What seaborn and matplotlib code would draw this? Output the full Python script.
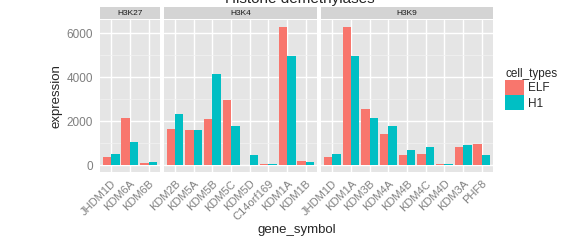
import numpy as np
import pandas as pd
import matplotlib
matplotlib.use("Agg")
import matplotlib.pyplot as plt
from matplotlib.patches import Rectangle, Patch
import seaborn as sns

# values
h3k27_genes = ["JHDM1D", "KDM6A", "KDM6B"]
h3k27_elf = [364, 2136, 106]
h3k27_h1 = [515, 1060, 150]

h3k4_genes = ["KDM2B", "KDM5A", "KDM5B", "KDM5C", "KDM5D", "C14orf169", "KDM1A", "KDM1B"]
h3k4_elf = [1650, 1606, 2106, 2970, 30, 76, 6303, 197]
h3k4_h1 = [2318, 1606, 4136, 1773, 485, 76, 4970, 152]

h3k9_genes = ["JHDM1D", "KDM1A", "KDM3B", "KDM4A", "KDM4B", "KDM4C", "KDM4D", "KDM3A", "PHF8"]
h3k9_elf = [379, 6303, 2560, 1409, 455, 530, 76, 833, 985]
h3k9_h1 = [530, 4970, 2150, 1773, 697, 833, 76, 909, 485]

facets = ["H3K27", "H3K4", "H3K9"]
cell_types = ["ELF", "H1"]
palette = {"ELF": "#F8766D", "H1": "#00BFC4"}

panels = [
    (h3k27_genes, h3k27_elf, h3k27_h1),
    (h3k4_genes, h3k4_elf, h3k4_h1),
    (h3k9_genes, h3k9_elf, h3k9_h1),
]

sns.set_style("white")
plt.rcParams["font.family"] = ["Liberation Sans", "DejaVu Sans"]

W, H = 561, 240
fig, axes = plt.subplots(
    1, 3, figsize=(W / 100, H / 100), dpi=100, sharey=True,
    gridspec_kw={"width_ratios": [len(p[0]) + 0.2 for p in panels]},
)
fig.subplots_adjust(left=100 / W, right=493 / W, top=1 - 19.7 / H,
                    bottom=1 - 172.2 / H, wspace=0.032)

ymax = 6303
for ax, facet, (genes, elf, h1) in zip(axes, facets, panels):
    df = pd.DataFrame({
        "gene_symbol": genes * 2,
        "expression": elf + h1,
        "cell_types": ["ELF"] * len(genes) + ["H1"] * len(genes),
    })
    ax.set_facecolor("#E5E5E5")
    ax.set_axisbelow(True)
    sns.barplot(data=df, x="gene_symbol", y="expression", hue="cell_types",
                hue_order=cell_types, order=genes, palette=palette,
                width=0.9, saturation=1, legend=False, ax=ax,
                edgecolor="none", linewidth=0)
    ax.set_xlim(-0.6, len(genes) - 0.4)
    ax.set_ylim(-0.05 * ymax, 1.05 * ymax)
    ax.set_yticks([0, 2000, 4000, 6000])
    ax.set_yticks([1000, 3000, 5000], minor=True)
    ax.grid(True, which="major", color="white", linewidth=1.0)
    ax.grid(True, which="minor", axis="y", color="#F2F2F2", linewidth=0.5)
    for s in ax.spines.values():
        s.set_visible(False)
    ax.tick_params(axis="x", which="major", length=3.5, color="#7F7F7F",
                   labelsize=8, labelcolor="#7F7F7F", pad=1)
    ax.tick_params(axis="y", which="major", length=3.5, color="#7F7F7F",
                   labelsize=8.5, labelcolor="#7F7F7F", pad=1.5)
    ax.tick_params(axis="y", which="minor", length=0)
    for lbl in ax.get_xticklabels():
        lbl.set_rotation(45)
        lbl.set_ha("right")
        lbl.set_rotation_mode("anchor")
    ax.set_xlabel("")
    ax.set_ylabel("")
    # facet strip
    ax.add_patch(Rectangle((0, 1.003), 1, 0.08, transform=ax.transAxes,
                           clip_on=False, facecolor="#D4D4D4", edgecolor="none"))
    ax.text(0.5, 1.043, facet, transform=ax.transAxes, ha="center", va="center",
            fontsize=6, color="#1A1A1A")

for ax in axes[1:]:
    ax.tick_params(axis="y", which="major", length=0, labelleft=False)

axes[0].set_ylabel("expression", fontsize=9.5, labelpad=3)
fig.text(297 / W, 1 - 230 / H, "gene_symbol", ha="center", va="center", fontsize=9.5)
fig.text(300 / W, 1 - 3 / H, "Histone demethylases", ha="center", va="baseline",
         fontsize=11)

handles = [Patch(facecolor=palette[c], edgecolor="none", label=c) for c in cell_types]
leg = fig.legend(handles=handles, title="cell_types", loc="upper left",
                 bbox_to_anchor=(505 / W, 1 - 68 / H), frameon=False,
                 fontsize=8.5, title_fontsize=8.5, handlelength=1.6,
                 handleheight=1.6, handletextpad=0.35, labelspacing=0.0,
                 borderaxespad=0, borderpad=0)
leg._legend_box.align = "left"

fig.savefig("out.png", dpi=100)
